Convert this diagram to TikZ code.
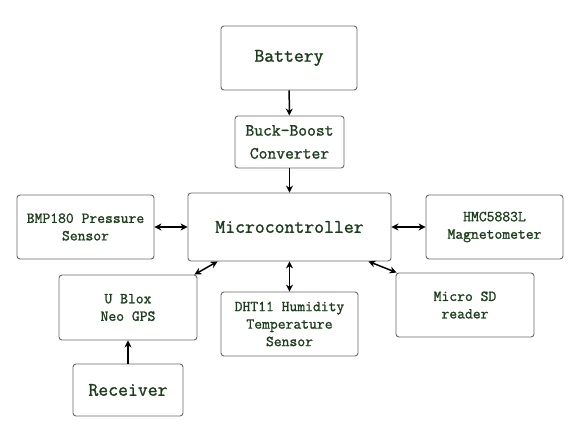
\documentclass[tikz,border=0pt]{standalone}
\usepackage{fontspec}
\newfontfamily\blkfont{Latin Modern Mono}[FakeBold=1.3]
\usetikzlibrary{arrows.meta,positioning}
\definecolor{txtgreen}{RGB}{28,62,28}
\definecolor{boxgray}{RGB}{105,105,105}
\tikzset{
	blk/.style={
		draw=boxgray,line width=0.9pt,rounded corners=3pt,fill=white,
		align=center,text=txtgreen,inner sep=0pt},
	bigtxt/.style={font=\fontsize{19.2}{22}\blkfont},
	midtxt/.style={font=\fontsize{17.1}{23}\blkfont},
	smalltxt/.style={font=\fontsize{15.2}{17.5}\blkfont},
	lnk/.style={line width=1.5pt,-{Stealth[length=7pt,width=7pt]}},
	dlnk/.style={line width=1.5pt,{Stealth[length=7pt,width=7pt]}-{Stealth[length=7pt,width=7pt]}}
}
\begin{document}
\begin{tikzpicture}[x=1pt,y=-1pt]
	\useasboundingbox (0,0) rectangle (587,431);
	% power chain
	\node[blk,bigtxt,minimum width=136pt,minimum height=64pt] (batt) at (289,58) {Battery};
	\node[blk,midtxt,minimum width=109pt,minimum height=52pt] (buck) at (289.5,142) {Buck-Boost\\Converter};
	\node[blk,bigtxt,minimum width=203pt,minimum height=68pt] (mcu) at (289.5,227) {Microcontroller};
	% peripherals
	\node[blk,smalltxt,minimum width=137pt,minimum height=64pt] (bmp) at (85.5,227) {BMP180 Pressure\\Sensor};
	\node[blk,smalltxt,minimum width=137pt,minimum height=64pt] (hmc) at (494.5,227) {HMC5883L\\Magnetometer};
	\node[blk,smalltxt,minimum width=138pt,minimum height=64pt] (sd) at (465,305) {Micro SD\\reader};
	\node[blk,smalltxt,minimum width=137pt,minimum height=64pt] (dht) at (289.5,324) {DHT11 Humidity\\Temperature\\Sensor};
	\node[blk,smalltxt,minimum width=138pt,minimum height=65pt] (gps) at (128,307.5) {U Blox\\Neo GPS};
	\node[blk,bigtxt,minimum width=110pt,minimum height=52pt] (rcv) at (128,390) {Receiver};

	\draw[lnk] (batt) -- (buck);
	\draw[lnk] (buck) -- (mcu);
	\draw[dlnk] (mcu) -- (bmp);
	\draw[dlnk] (mcu) -- (hmc);
	\draw[dlnk] (mcu) -- (dht);
	\draw[dlnk] ([xshift=30pt]mcu.south west) -- ([xshift=-3pt]gps.north east);
	\draw[dlnk] ([xshift=-23pt]mcu.south east) -- ([xshift=1pt]sd.north west);
	\draw[lnk] (rcv) -- (gps);
\end{tikzpicture}
\end{document}
